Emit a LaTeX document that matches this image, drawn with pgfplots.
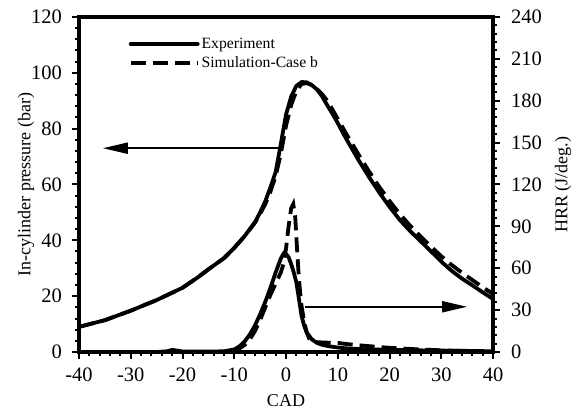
\documentclass[border=0pt]{standalone}
\usepackage{pgfplots}
\pgfplotsset{compat=1.18}
\usepackage{fontspec}
\setmainfont{Liberation Serif}
\usetikzlibrary{arrows.meta}
\begin{document}
\begin{tikzpicture}
\pgfplotsset{
  common/.style={
    scale only axis, width=414pt, height=335pt,
    xmin=-40, xmax=40,
    tick align=outside,
    major tick length=6.5pt, minor tick length=4pt,
    every tick/.style={black, line width=2pt},
    /pgf/number format/assume math mode=true,
    ticklabel style={font=\fontsize{20.5}{24}\selectfont},
    label style={font=\fontsize{18}{21}\selectfont},
  },
  ex/.style={black, line width=3.8pt, line join=round, line cap=round},
  sim/.style={black, line width=3.8pt, dash pattern=on 15pt off 7pt},
}
\begin{axis}[common, name=ax,
  ymin=0, ymax=120,
  xtick={-40,-30,...,40}, minor x tick num=4,
  ytick={0,20,...,120}, minor y tick num=4,
  xtick pos=lower, ytick pos=left,
  yticklabel style={xshift=-7pt},
  xticklabel style={yshift=-6pt},
  xlabel={CAD}, ylabel={In-cylinder pressure (bar)},
  ylabel style={at={(axis description cs:-0.128,0.5)}, rotate=0, anchor=center},
  xlabel style={at={(axis description cs:0.5,-0.146)}, anchor=center},
  legend style={draw=none, fill=none, at={(0.115,0.95)}, anchor=north west,
    font=\fontsize{15.7}{19}\selectfont, row sep=3pt, inner sep=2pt},
  legend cell align=left,
  legend image code/.code={\draw[#1] (0pt,0pt) -- (67pt,0pt);},
]
\addplot[ex] coordinates {
(-40,9.0) (-35,11.4) (-30,14.8) (-25,18.6) (-20,23.0) (-17,26.8) (-15,29.6) (-12,33.6) (-10,37.3) (-8,41.5) (-6,46.5) (-5,50) (-4,54) (-3,59) (-2,64.5) (-1,74.5) (0,85) (1,91.5) (2,95.3) (3,96.7) (4,96.6) (5,95.6) (6,94) (7,91.5) (8,88.3) (9,85.3) (10,82) (11,78.5) (12,75.2) (13,72) (14,68.8) (15,65.8) (16,62.8) (17,60) (18,57.2) (19,54.6) (20,52) (22,47.3) (24,43.3) (26,39.7) (28,36.1) (30,32.4) (32,29.1) (34,26.3) (36,23.9) (38,21.4) (40,19.0)};
\addlegendentry{Experiment}
\addplot[sim] coordinates {
(-40,9.0) (-35,11.4) (-30,14.8) (-25,18.6) (-20,23.0) (-17,26.8) (-15,29.6) (-12,33.6) (-10,37.3) (-8,41.5) (-6,46.3) (-5,49.5) (-4,53) (-3,57.5) (-2,63) (-1,71) (0,81) (1,88.5) (2,93.5) (3,96) (4,96.3) (5,95.6) (6,94.2) (7,92.3) (8,90) (10,83.5) (12,77) (14,70.8) (16,64.8) (18,59.2) (20,54.1) (22,49.4) (24,45.2) (26,41.4) (28,37.8) (30,34.3) (32,31.2) (34,28.4) (36,25.8) (38,23.2) (40,20.8)};
\addlegendentry{Simulation-Case b}
\draw[line width=2pt, -{Triangle[length=25pt, width=11pt]}] (axis cs:-1.2,73) -- (axis cs:-35.4,73);
\draw[line width=2pt, -{Triangle[length=25pt, width=11pt]}] (axis cs:3.7,16.2) -- (axis cs:35.0,16.2);
\end{axis}
\begin{axis}[common,
  ymin=0, ymax=240,
  ytick={0,30,...,240}, minor y tick num=4,
  axis x line=none, axis y line*=right,
  yticklabel style={xshift=8pt},
  ylabel={HRR (J/deg.)},
  ylabel style={at={(axis description cs:1.169,0.5)}, rotate=0, anchor=center},
]
\addplot[ex] coordinates {
(-40,0) (-25,0) (-23,0.5) (-22,1.5) (-21,1.0) (-20,0.4) (-15,0.3) (-12,0.5) (-10,1.8) (-9,4) (-8,7.5) (-7,12.5) (-6,19) (-5,27) (-4,36) (-3,46) (-2,57) (-1,67) (-0.3,71.5) (0.5,68) (1,63) (1.5,57) (2,50) (2.5,38) (3,26) (3.5,19) (4,14) (5,9) (6,6.5) (7,5.2) (8,4.3) (10,3.2) (12,2.5) (15,2) (20,1.5) (25,1.2) (30,1) (35,0.8) (40,0.5)};
\addplot[sim] coordinates {
(-40,0) (-12,0) (-10,1) (-9,2.5) (-8,5) (-7,9) (-6,15) (-5,23) (-4,32) (-3,41) (-2,49) (-1,57) (-0.5,63) (0,74) (0.5,90) (1,103) (1.4,106) (1.8,96) (2.1,76) (2.4,58) (2.7,44) (3.0,33) (3.5,22) (4,14) (4.5,9.5) (5,8) (6,7) (8,6.7) (10,6.5) (12,5.6) (15,4.5) (20,3) (25,2) (30,1.2) (35,0.6) (40,0.2)};
\end{axis}
\draw[black, line width=4.5pt] (ax.south west) rectangle (ax.north east);
\path ([shift={(-79pt,-56pt)}]ax.south west) rectangle ([shift={(85pt,17pt)}]ax.north east);
\end{tikzpicture}
\end{document}
